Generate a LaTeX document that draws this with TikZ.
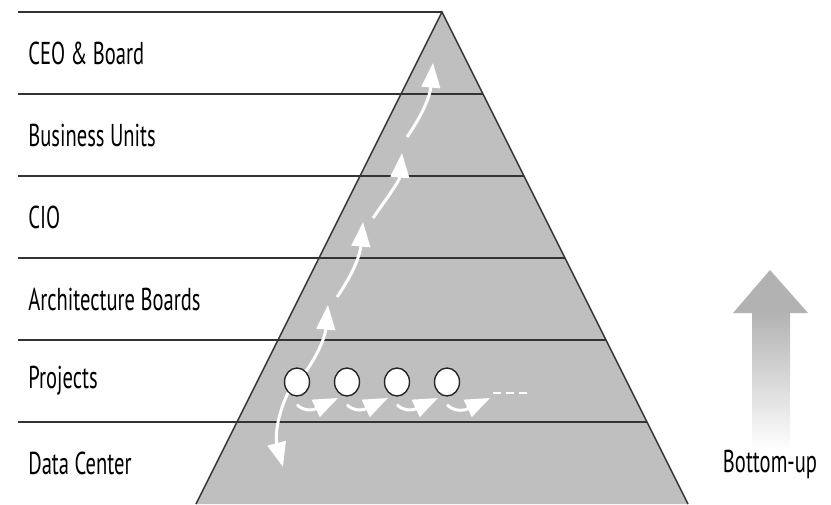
\documentclass[tikz,border=0pt]{standalone}
\usepackage{fontspec}
\setmainfont{PT Sans}[FakeStretch=0.65]
\usetikzlibrary{arrows.meta,positioning,calc,shapes.geometric}

\begin{document}
\begin{tikzpicture}[x=0.02cm, y=0.02cm,
  layer/.style={draw=black!80, line width=0.8pt},
  lbl/.style={anchor=west, inner sep=0pt, font=\fontsize{18}{20}\selectfont},
  proj/.style={ellipse, draw=black!85, line width=0.8pt, fill=white,
               minimum width=0.5cm, minimum height=0.56cm, inner sep=0pt},
  hop/.style={draw=white, line width=1.7pt,
              -{Triangle[width=10.5pt,length=14pt]}}
]
  \useasboundingbox (0,0) rectangle (831,504);

  % pyramid
  \fill[gray!50] (196,0) -- (442,492) -- (688,0) -- cycle;
  \draw[layer] (196,0) -- (442,492) -- (688,0);

  % layers and their names
  \foreach \k in {1,...,6}
    \draw[layer] (18,82*\k) -- ({442+0.5*(492-82*\k)},82*\k);
  \foreach \name/\txt [count=\k] in {dc/Data Center, prj/Projects,
      arch/Architecture Boards, cio/CIO, bu/Business Units, ceo/CEO \& Board}
    \node[lbl] (\name) at (28,82*\k-41) {\txt};

  % projects
  \foreach \i/\x in {1/297,2/347,3/397,4/447}
    \node[proj] (p\i) at (\x,122) {};
  \coordinate (p5) at (499,122);

  \foreach \i [evaluate=\i as \j using int(\i+1)] in {1,...,4}
    \draw[hop] ($(p\i.south)+(0,-8)$) to[out=-45,in=205] ($(p\j)+(-9,-16)$);
  \draw[white, line width=1.7pt, dash pattern=on 4.5pt off 3pt]
    ($(p5)+(-6,-11)$) -- ($(p5)+(31,-11)$);

  % escalation path
  \coordinate (hop1) at (328,199);
  \coordinate (hop1s) at (337,207);
  \coordinate (hop2) at (363,282);
  \coordinate (hop2s) at (373,286);
  \coordinate (hop3) at (402,351);
  \coordinate (hop3s) at (407,367);
  \coordinate (hop4) at (433,441);
  \coordinate (dn) at (283,37);

  \draw[hop] (p1.50) to[out=55,in=-95] (hop1);
  \draw[hop] (hop1s) to[out=55,in=-95] (hop2);
  \draw[hop] (hop2s) to[out=55,in=-95] (hop3);
  \draw[hop] (hop3s) to[out=55,in=-95] (hop4);
  \draw[hop] (p1.230) to[out=-115,in=105] (dn);

  % bottom-up arrow
  \shade[top color=gray!60, bottom color=white] (752,54) rectangle (790,191);
  \fill[gray!60] (733,191) -- (770,234) -- (808,191) -- cycle;
  \node[lbl, anchor=center] (bup) at (770,40) {Bottom-up};
\end{tikzpicture}
\end{document}
